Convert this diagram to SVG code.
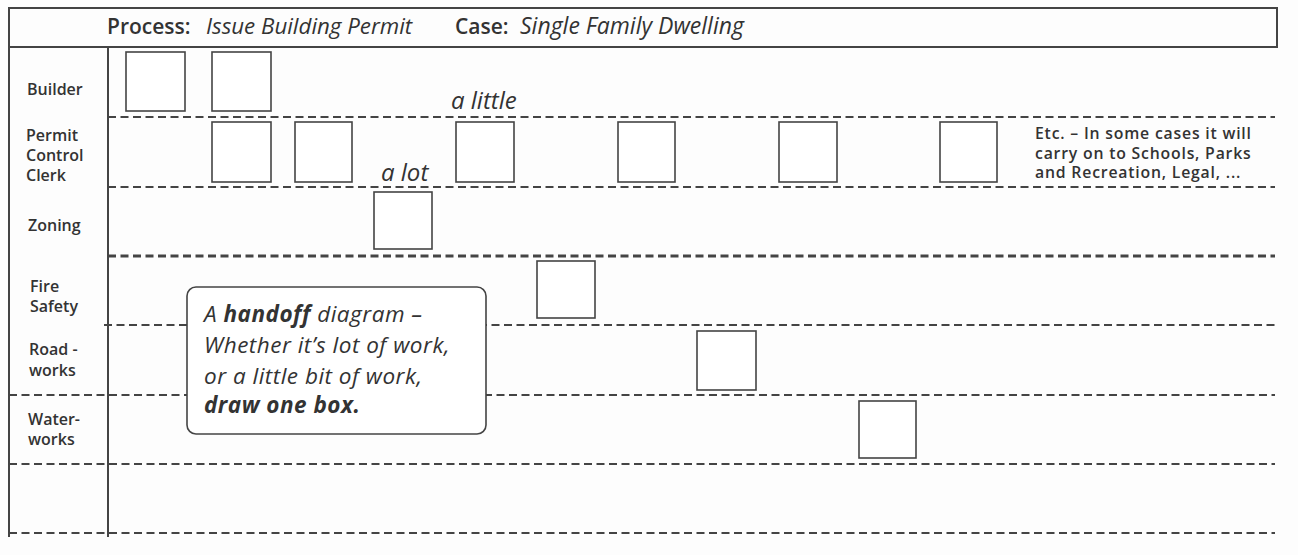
<svg xmlns="http://www.w3.org/2000/svg" width="1298" height="555" viewBox="0 0 1298 555">
  <style>
    .frame { fill: none; stroke: #444; stroke-width: 2; }
    .lane { fill: none; stroke: #444; stroke-width: 2; stroke-dasharray: 8 4.5; }
    .lane.heavy { stroke-width: 3; }
    .task { fill: #fff; stroke: #444; stroke-width: 1.6; }
    .hdr { font-family: "Open Sans", "Liberation Sans", sans-serif; font-size: 21px; fill: #333; }
    .hdr .b { font-weight: 600; }
    .hdr .i { font-style: italic; font-size: 22.3px; }
    .lbl { font-family: "Open Sans", "Liberation Sans", sans-serif; font-size: 16px; font-weight: 600; fill: #333; }
    .note { font-family: "Open Sans", "Liberation Sans", sans-serif; font-size: 24px; font-style: italic; fill: #333; }
    .callout-text { font-size: 22.5px; letter-spacing: 0.5px; }
    .etc { font-family: "Open Sans", "Liberation Sans", sans-serif; font-size: 15.8px; font-weight: 600; letter-spacing: 0.8px; fill: #333; }
    .b { font-weight: bold; }
  </style>
  <rect width="1298" height="555" fill="#fdfdfd"/>

  <!-- header bar -->
  <g id="header">
    <rect class="frame" x="9" y="8" width="1268" height="39"/>
    <text class="hdr" y="34"><tspan x="107" class="b">Process:</tspan><tspan x="206" class="i">Issue Building Permit</tspan><tspan x="455" class="b">Case:</tspan><tspan x="520" class="i" style="font-size:23px">Single Family Dwelling</tspan></text>
  </g>

  <!-- swimlane frame and dividers -->
  <g id="lanes">
    <line class="frame" x1="9" y1="47" x2="9" y2="537" stroke-width="1.5"/>
    <line class="frame" x1="108" y1="47" x2="108" y2="537"/>
    <line class="lane" x1="108" y1="117" x2="1275" y2="117"/>
    <line class="lane" x1="108" y1="187" x2="1275" y2="187"/>
    <line class="lane heavy" x1="108" y1="256" x2="1275" y2="256"/>
    <line class="lane" x1="104" y1="325" x2="1275" y2="325"/>
    <line class="lane" x1="9" y1="395" x2="1275" y2="395"/>
    <line class="lane" x1="9" y1="464" x2="1275" y2="464" stroke-width="2.5"/>
    <line class="lane" x1="9" y1="533" x2="1275" y2="533" stroke-width="2.3"/>
  </g>

  <!-- lane titles -->
  <g id="lane-labels">
    <text class="lbl" x="27" y="95">Builder</text>
    <text class="lbl"><tspan x="26" y="141">Permit</tspan><tspan x="26" y="161">Control</tspan><tspan x="26" y="181">Clerk</tspan></text>
    <text class="lbl" x="28" y="231">Zoning</text>
    <text class="lbl"><tspan x="30" y="292">Fire</tspan><tspan x="30" y="312">Safety</tspan></text>
    <text class="lbl"><tspan x="29" y="355">Road -</tspan><tspan x="29" y="376">works</tspan></text>
    <text class="lbl"><tspan x="28" y="425">Water-</tspan><tspan x="28" y="445">works</tspan></text>
  </g>

  <!-- work steps -->
  <g id="builder-1"><rect class="task" x="126" y="52" width="59" height="59"/></g>
  <g id="builder-2"><rect class="task" x="212" y="52" width="59" height="59"/></g>
  <g id="clerk-1"><rect class="task" x="212" y="122" width="59" height="60"/></g>
  <g id="clerk-2"><rect class="task" x="295" y="122" width="57" height="60"/></g>
  <g id="zoning-1"><rect class="task" x="374" y="192" width="58" height="57"/></g>
  <g id="clerk-3"><rect class="task" x="456" y="122" width="58" height="60"/></g>
  <g id="fire-1"><rect class="task" x="537" y="261" width="58" height="57"/></g>
  <g id="clerk-4"><rect class="task" x="618" y="122" width="57" height="60"/></g>
  <g id="road-1"><rect class="task" x="697" y="331" width="59" height="59"/></g>
  <g id="clerk-5"><rect class="task" x="779" y="122" width="58" height="60"/></g>
  <g id="water-1"><rect class="task" x="859" y="401" width="57" height="57"/></g>
  <g id="clerk-6"><rect class="task" x="940" y="122" width="57" height="60"/></g>

  <!-- effort annotations -->
  <g id="effort-notes">
    <text class="note" x="451" y="109">a little</text>
    <text class="note" x="381" y="181">a lot</text>
  </g>

  <g id="etc-note">
    <text class="etc"><tspan x="1035" y="139">Etc.  – In some cases it will</tspan><tspan x="1035" y="158.5">carry on to Schools, Parks</tspan><tspan x="1035" y="178">and Recreation, Legal,   ...</tspan></text>
  </g>

  <!-- callout -->
  <g id="callout">
    <rect x="187" y="287" width="299" height="147" rx="9" fill="#fff" stroke="#444" stroke-width="1.6"/>
    <text class="note callout-text">
      <tspan x="204" y="322">A <tspan class="b">handoff</tspan> diagram –</tspan>
      <tspan x="204" y="353">Whether it’s lot of work,</tspan>
      <tspan x="204" y="384">or a little bit of work,</tspan>
      <tspan x="204" y="413" class="b">draw one box.</tspan>
    </text>
  </g>
</svg>
